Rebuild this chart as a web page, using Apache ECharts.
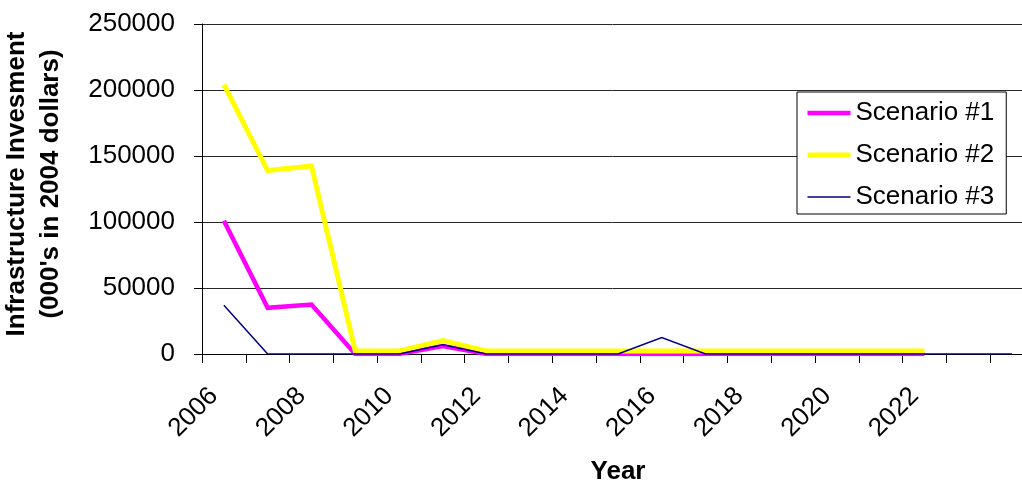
<!DOCTYPE html>
<html>
<head>
<meta charset="utf-8">
<script src="https://cdn.jsdelivr.net/npm/echarts@6/dist/echarts.min.js"></script>
<style>
  html, body { margin: 0; padding: 0; background: #ffffff; }
  #chart { width: 1022px; height: 485px; }
</style>
</head>
<body>
<div id="chart"></div>
<script>
// Years on the category axis (the last two periods carry no printed label)
const years = ['2006', '2007', '2008', '2009', '2010', '2011', '2012', '2013', '2014',
  '2015', '2016', '2017', '2018', '2019', '2020', '2021', '2022', '', ''];

// Infrastructure investment, thousands of 2004 dollars
const scenario1 = [101000, 35000, 37500, 0, 0, 6000, 0, 0, 0, 0, 0, 0, 0, 0, 0, 0, 0, null, null];
const scenario2 = [204000, 139000, 142500, 2300, 2300, 10200, 2300, 2300, 2300, 2300, 2300,
  2300, 2300, 2300, 2300, 2300, 2300, null, null];
const scenario3 = [37000, 0, 0, 0, 0, 7000, 0, 0, 0, 0, 12500, 0, 0, 0, 0, 0, 0, 0, 0];

const yTicks = { min: 0, max: 250000, interval: 50000 };

const FONT = "'Liberation Sans', Arial, sans-serif";

const styles = {
  'Scenario #1': { color: '#ff00ff', width: 4.5 },
  'Scenario #2': { color: '#ffff00', width: 5 },
  'Scenario #3': { color: '#000080', width: 1.5 }
};

const chart = echarts.init(document.getElementById('chart'), null, { renderer: 'canvas' });

chart.setOption({
  animation: false,
  backgroundColor: '#ffffff',
  grid: { left: 202, top: 24, width: 832, height: 330, containLabel: false, outerBoundsMode: 'none' },
  legend: {
    orient: 'vertical',
    left: 797,
    top: 92,
    padding: [6, 12, 2, 8],
    itemGap: 12,
    itemWidth: 43,
    itemHeight: 14,
    backgroundColor: '#ffffff',
    borderColor: '#000000',
    borderWidth: 1,
    itemStyle: { opacity: 0 },
    textStyle: { fontFamily: FONT, fontSize: 26, color: '#000000', lineHeight: 30 },
    data: Object.keys(styles).map(function (name) {
      return { name: name, lineStyle: { color: styles[name].color, width: styles[name].width } };
    })
  },
  xAxis: {
    type: 'category',
    data: years,
    boundaryGap: true,
    name: 'Year',
    nameLocation: 'middle',
    nameGap: 105,
    nameTextStyle: { fontFamily: FONT, fontSize: 26, fontWeight: 'bold', color: '#000000' },
    axisLine: { lineStyle: { color: '#000000', width: 1 } },
    axisTick: { show: true, inside: false, length: 9, interval: 0, alignWithLabel: false,
      lineStyle: { color: '#000000', width: 1 } },
    axisLabel: {
      interval: 1,
      rotate: 45,
      margin: 28,
      padding: [0, 14, 11, 0],
      fontFamily: FONT,
      fontSize: 26,
      color: '#000000'
    },
    splitLine: { show: false }
  },
  yAxis: {
    type: 'value',
    min: yTicks.min,
    max: yTicks.max,
    interval: yTicks.interval,
    name: "Infrastructure Invesment\n(000's in 2004 dollars)",
    nameLocation: 'middle',
    nameRotate: 90,
    nameGap: 134,
    nameTextStyle: { fontFamily: FONT, fontSize: 26, fontWeight: 'bold', color: '#000000',
      lineHeight: 34, padding: [0, 0, 0, 10] },
    axisLine: { show: true, lineStyle: { color: '#000000', width: 1 } },
    axisTick: { show: true, inside: false, length: 8, lineStyle: { color: '#000000', width: 1 } },
    axisLabel: { margin: 27, fontFamily: FONT, fontSize: 26, color: '#000000',
      formatter: function (v) { return String(v); } },
    splitLine: { show: true, lineStyle: { color: '#262626', width: 1 } }
  },
  series: [
    {
      name: 'Scenario #1', type: 'line', data: scenario1,
      symbol: 'none', showSymbol: false,
      lineStyle: { color: styles['Scenario #1'].color, width: styles['Scenario #1'].width, join: 'miter' },
      itemStyle: { color: styles['Scenario #1'].color },
      z: 2
    },
    {
      name: 'Scenario #2', type: 'line', data: scenario2,
      symbol: 'none', showSymbol: false,
      lineStyle: { color: styles['Scenario #2'].color, width: styles['Scenario #2'].width, join: 'miter' },
      itemStyle: { color: styles['Scenario #2'].color },
      z: 3
    },
    {
      name: 'Scenario #3', type: 'line', data: scenario3,
      symbol: 'none', showSymbol: false,
      lineStyle: { color: styles['Scenario #3'].color, width: styles['Scenario #3'].width, join: 'miter' },
      itemStyle: { color: styles['Scenario #3'].color },
      z: 4
    }
  ]
});
</script>
</body>
</html>
